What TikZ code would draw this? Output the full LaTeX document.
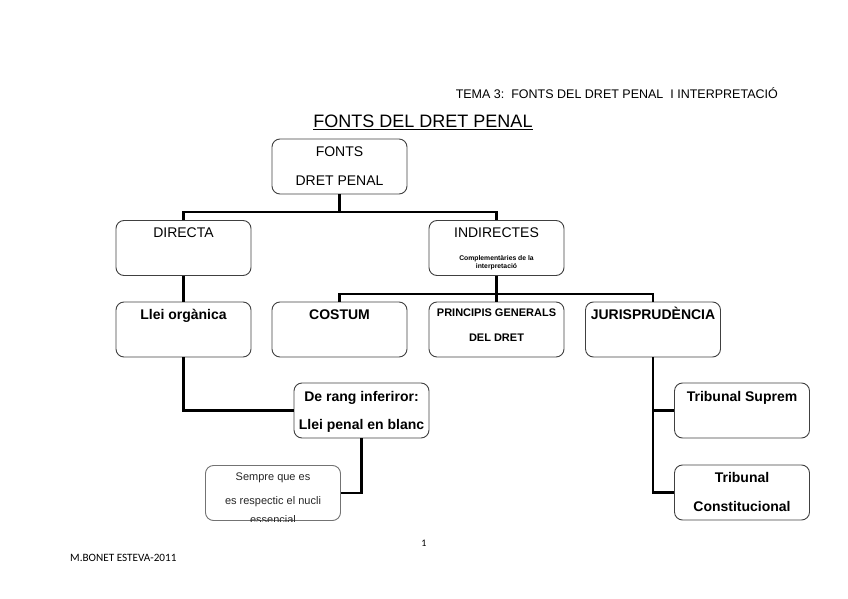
\documentclass[tikz,border=0pt]{standalone}
\usepackage{fontspec}
\setmainfont{Liberation Sans}
\newfontfamily\calib{Carlito}
\begin{document}
\begin{tikzpicture}[x=1pt,y=-1pt,
  box/.style={draw=black!75,line width=0.9pt,rounded corners=8pt,minimum width=135pt,minimum height=55pt,inner sep=0pt},
  conn/.style={line width=2.2pt,black},
  txt/.style={inner sep=0pt,anchor=base,font=\fontsize{14}{16}\selectfont},
  btxt/.style={txt,font=\fontsize{14}{16}\selectfont\bfseries}]
\useasboundingbox (0,0) rectangle (848,599);
% header
\node[inner sep=0pt,anchor=base east,font=\fontsize{12.5}{14}\selectfont] (hdr) at (778,99) {TEMA 3:\ \ FONTS DEL DRET PENAL\ \ I INTERPRETACIÓ};
\node[inner sep=0pt,anchor=base,font=\fontsize{18}{20}\selectfont] (title) at (423,128) {\underline{FONTS DEL DRET PENAL}};
% boxes
\node[box] (fonts) at (339.5,166.5) {};
\node[box] (directa) at (183.5,248) {};
\node[box] (indir) at (496.5,248) {};
\node[box] (llei) at (183.5,329.5) {};
\node[box] (costum) at (339.5,329.5) {};
\node[box] (princ) at (496.5,329.5) {};
\node[box] (juris) at (653,329.5) {};
\node[box] (rang) at (361.5,410.5) {};
\node[box,draw=black!55] (sempre) at (273,493) {};
\node[box] (suprem) at (742,410.5) {};
\node[box] (const) at (742,492.5) {};
% texts
\node[txt] (t1) at (339.5,157) {FONTS};
\node[txt] (t2) at (339.5,185) {DRET PENAL};
\node[txt] (t3) at (183.5,237) {DIRECTA};
\node[txt] (t4) at (496.5,237) {INDIRECTES};
\node[inner sep=0pt,anchor=base,font=\fontsize{6.8}{8}\selectfont\bfseries] (t5) at (496.5,260.5) {Complementàries de la};
\node[inner sep=0pt,anchor=base,font=\fontsize{6.8}{8}\selectfont\bfseries] (t6) at (496.5,268.5) {interpretació};
\node[btxt] (t7) at (183.5,319) {Llei orgànica};
\node[btxt] (t8) at (339.5,319) {COSTUM};
\node[inner sep=0pt,anchor=base,font=\fontsize{11}{13}\selectfont\bfseries] (t9) at (496.5,316) {PRINCIPIS GENERALS};
\node[inner sep=0pt,anchor=base,font=\fontsize{11}{13}\selectfont\bfseries] (t10) at (496.5,341) {DEL DRET};
\node[btxt] (t11) at (653,319) {JURISPRUDÈNCIA};
\node[btxt] (t12) at (361.5,401) {De rang inferiror:};
\node[btxt] (t13) at (361.5,429) {Llei penal en blanc};
\node[btxt] (t14) at (742,401) {Tribunal Suprem};
\node[btxt] (t15) at (742,482) {Tribunal};
\node[btxt] (t16) at (742,511) {Constitucional};
\begin{scope}
\clip (sempre.north west) rectangle ([yshift=-1pt]sempre.south east);
\node[inner sep=0pt,anchor=base,font=\fontsize{11}{13}\selectfont,text=black!85] (t17) at (273,480) {Sempre que es};
\node[inner sep=0pt,anchor=base,font=\fontsize{11}{13}\selectfont,text=black!85] (t18) at (273,504) {es respectic el nucli};
\node[inner sep=0pt,anchor=base,font=\fontsize{11}{13}\selectfont,text=black!85] (t19) at (273,523.5) {essencial};
\end{scope}
% footer
\node[inner sep=0pt,anchor=base,font=\fontsize{10}{12}\selectfont\calib] (pg) at (424,546) {1};
\node[inner sep=0pt,anchor=base west,font=\fontsize{11.2}{13}\selectfont\calib] (auth) at (70,561) {M.BONET ESTEVA-2011};
% connectors
\coordinate (j1) at (339.5,212);
\coordinate (j2) at (496.5,294);
\draw[conn] (fonts.south) -- (j1);
\draw[conn] (directa.north) |- (j1) -| (indir.north);
\draw[conn] (directa.south) -- (llei.north);
\draw[conn] (indir.south) -- (j2);
\draw[conn] (costum.north) |- (j2) -| (juris.north);
\draw[conn] (j2) -- (princ.north);
\draw[conn] (llei.south) |- (rang.west);
\draw[conn] (rang.south) |- (sempre.east);
\draw[conn] (juris.south) |- (const.west);
\draw[conn] (juris.south |- suprem.west) -- (suprem.west);
\end{tikzpicture}
\end{document}
